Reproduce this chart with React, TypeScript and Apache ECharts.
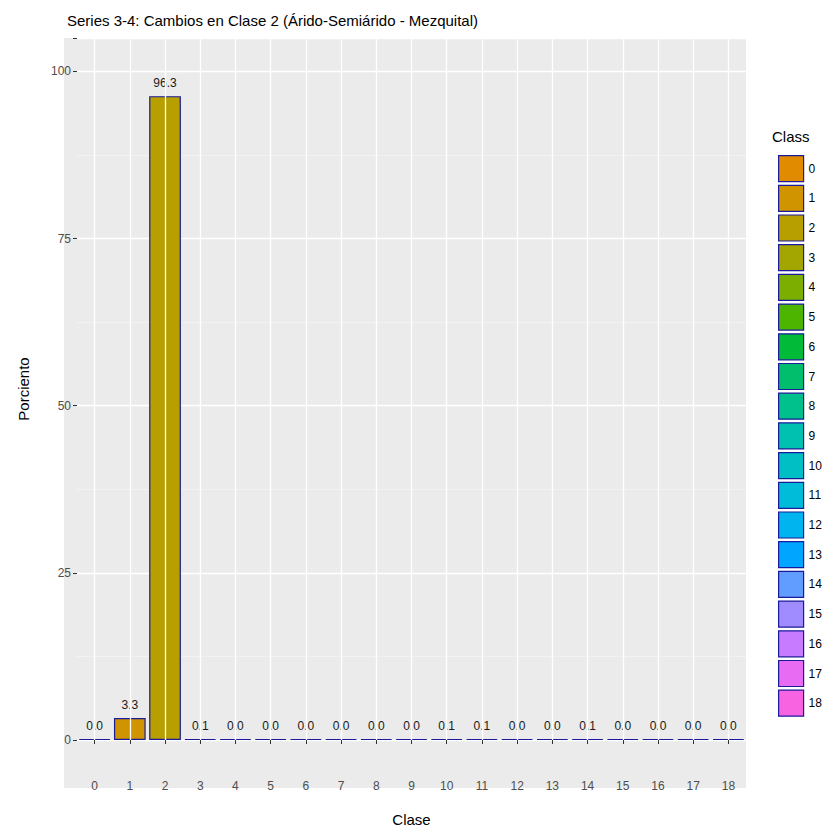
import { useEffect, useRef } from 'react'
import * as echarts from 'echarts'

const classes = ['0', '1', '2', '3', '4', '5', '6', '7', '8', '9', '10', '11', '12', '13', '14', '15', '16', '17', '18']
const percents = [0.0, 3.3, 96.3, 0.1, 0.0, 0.0, 0.0, 0.0, 0.0, 0.0, 0.1, 0.1, 0.0, 0.0, 0.1, 0.0, 0.0, 0.0, 0.0]
const colors = [
  '#E08B00', '#D09400', '#B89F00', '#A3A500', '#7CAE00', '#4DB500', '#00BA38', '#00BE6C', '#00C08B', '#00C0AF',
  '#00BFC4', '#00BCD8', '#00B4EF', '#00A5FF', '#619CFF', '#A08CFF', '#C77CFF', '#E76BF3', '#F763E0',
]
const yTicks = [0, 25, 50, 75, 100]

const FONT = 'Liberation Sans, Arial, sans-serif'

export default function App() {
  const ref = useRef<HTMLDivElement>(null)

  useEffect(() => {
    if (!ref.current) return
    const chart = echarts.init(ref.current, undefined, { renderer: 'svg' })

    const barSeries = classes.map((c, i) => ({
      name: c,
      type: 'bar' as const,
      stack: 'total',
      z: 3,
      barWidth: '90%',
      barMinHeight: 1,
      data: classes.map((_, j) => (j === i ? percents[i] : null)),
      itemStyle: { color: colors[i], borderColor: '#1A1A9C', borderWidth: 1.2 },
      label: {
        show: true,
        position: 'top' as const,
        distance: 7,
        fontSize: 12,
        color: '#1A1A1A',
        fontFamily: FONT,
        formatter: (p: any) => Number(p.value).toFixed(1),
      },
    }))

    chart.setOption({
      animation: false,
      title: {
        text: 'Series 3-4: Cambios en Clase 2 (Árido-Semiárido - Mezquital)',
        left: 54,
        top: 0,
        textStyle: { fontSize: 15, fontWeight: 'normal', color: '#000', fontFamily: FONT },
      },
      graphic: [
        { type: 'rect', z: -10, shape: { x: 56, y: 30, width: 682, height: 750 }, style: { fill: '#EBEBEB' } },
        { type: 'text', left: 764, top: 121, style: { text: 'Class', fontSize: 15, fill: '#000', fontFamily: FONT } },
      ],
      legend: {
        orient: 'vertical',
        left: 765,
        top: 142,
        icon: 'rect',
        itemWidth: 25,
        itemHeight: 26,
        itemGap: 2.5,
        data: classes,
        itemStyle: { borderColor: '#1A1A9C', borderWidth: 1.2 },
        textStyle: { fontSize: 12, color: '#000', fontFamily: FONT },
        selectedMode: false,
      },
      grid: { left: 56, right: 86, top: 30, bottom: 78 },
      xAxis: {
        type: 'category',
        data: classes,
        offset: 34,
        name: 'Clase',
        nameLocation: 'middle',
        nameGap: 38,
        nameTextStyle: { fontSize: 15, color: '#000', fontFamily: FONT },
        axisLine: { show: false },
        axisTick: { show: true, alignWithLabel: true, length: 4, lineStyle: { color: '#333' } },
        axisLabel: { fontSize: 12, color: '#4D4D4D', fontFamily: FONT, margin: 6 },
        splitLine: { show: false },
      },
      yAxis: {
        type: 'value',
        min: 0,
        max: 105,
        interval: 25,
        name: 'Porciento',
        nameLocation: 'middle',
        nameGap: 46,
        nameTextStyle: { fontSize: 15, color: '#000', fontFamily: FONT },
        axisLine: { show: false },
        axisTick: { show: true, length: 4, lineStyle: { color: '#333' } },
        axisLabel: {
          fontSize: 12,
          color: '#4D4D4D',
          fontFamily: FONT,
          margin: 6,
          formatter: (v: number) => (yTicks.includes(v) ? String(v) : ''),
        },
        splitLine: { lineStyle: { color: '#FFFFFF', width: 1.3 } },
        minorTick: { show: false, splitNumber: 2 },
        minorSplitLine: { show: true, lineStyle: { color: '#F7F7F7', width: 0.6 } },
      },
      series: [
        {
          name: 'grid',
          type: 'line',
          z: 1,
          data: [],
          markLine: {
            silent: true,
            symbol: 'none',
            label: { show: false },
            lineStyle: { color: '#FFFFFF', width: 1.3, type: 'solid' },
            data: classes.map((c) => ({ xAxis: c })),
          },
        },
        ...barSeries,
      ],
    })

    return () => chart.dispose()
  }, [])

  return <div ref={ref} style={{ width: 824, height: 824 }} />
}
